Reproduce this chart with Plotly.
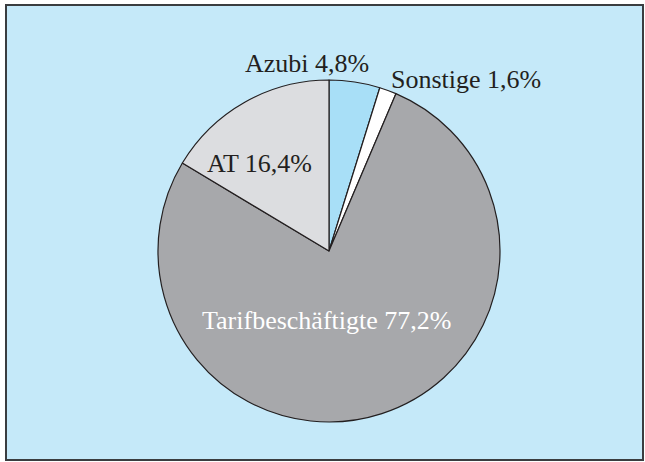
import plotly.graph_objects as go

labels = ["Azubi", "Sonstige", "Tarifbeschäftigte", "AT"]
values = [4.8, 1.6, 77.2, 16.4]
colors = ["#a8dff7", "#ffffff", "#a7a8ab", "#dcdde0"]
text_colors = ["#231f20", "#231f20", "#ffffff", "#231f20"]
# label anchor positions (pixels)
label_pos = [(307, 64), (466, 79), (326, 320), (259, 163)]

W, H = 645, 462
cx, cy, r = 329, 251, 171

fig = go.Figure(go.Pie(
    labels=labels,
    values=values,
    sort=False,
    direction="clockwise",
    rotation=0,
    marker=dict(colors=colors, line=dict(color="#231f20", width=1.2)),
    textinfo="none",
    hoverinfo="skip",
    showlegend=False,
    domain=dict(x=[(cx - r) / W, (cx + r) / W],
                y=[(H - cy - r) / H, (H - cy + r) / H]),
))

def fmt(v):
    return f"{v:.1f}".replace(".", ",") + "%"

for lab, v, tc, (px, py) in zip(labels, values, text_colors, label_pos):
    fig.add_annotation(
        x=px / W, y=1 - py / H, xref="paper", yref="paper",
        text=f"{lab} {fmt(v)}", showarrow=False,
        font=dict(family="Liberation Serif", size=26, color=tc),
        xanchor="center", yanchor="middle",
    )

fig.add_shape(type="rect", xref="paper", yref="paper",
              x0=6 / W, x1=643 / W, y0=1 - 460 / H, y1=1 - 5 / H,
              fillcolor="#c5e9f9", line=dict(color="#3a3d40", width=2),
              layer="below")

fig.update_layout(
    width=W, height=H,
    margin=dict(l=0, r=0, t=0, b=0),
    paper_bgcolor="#ffffff",
    plot_bgcolor="#ffffff",
)

fig.write_html("out.html", config={"displayModeBar": False},
               post_script="document.body.style.margin='0';document.body.style.overflow='hidden';")
